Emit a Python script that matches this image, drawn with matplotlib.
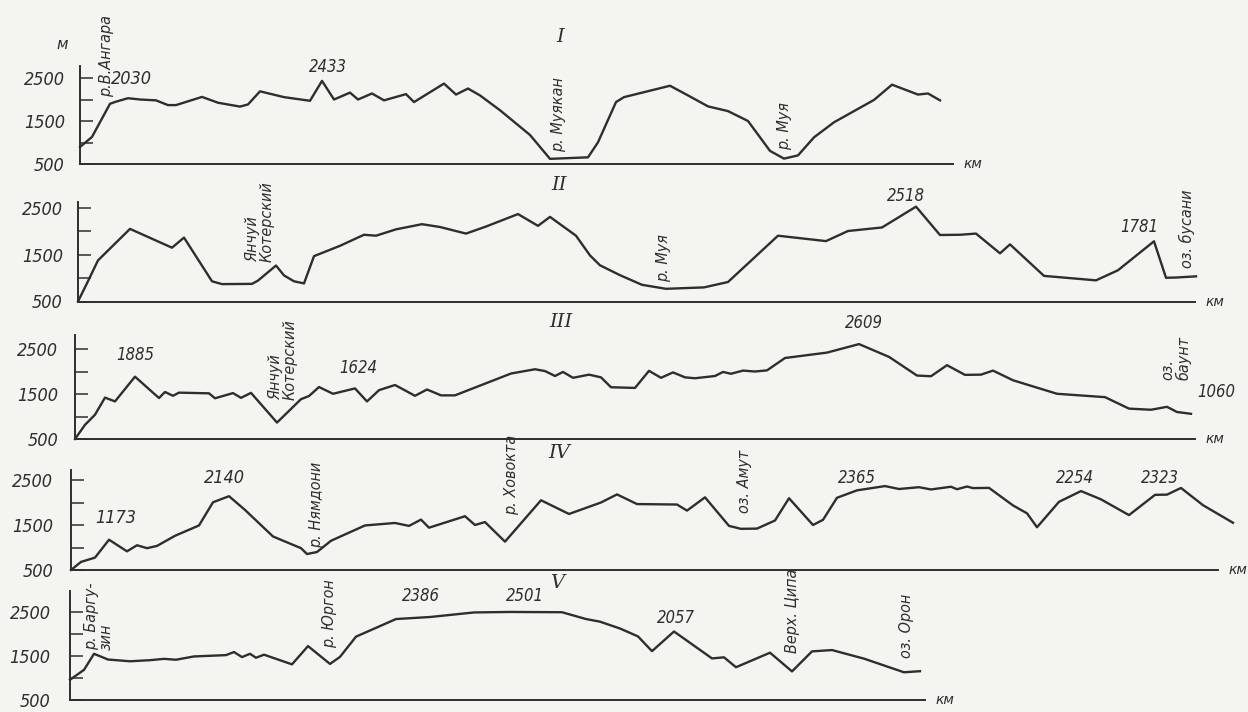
import matplotlib
matplotlib.use("Agg")
import matplotlib.pyplot as plt
from matplotlib.ticker import FixedLocator

W, H = 1248, 712
INK = "#2e2e2e"
PAPER = "#f4f4f1"

# профиль I: расстояние (км) и высота (м)
dist_1 = [0, 6, 15, 18, 24, 30, 38, 44, 48, 61, 69, 80, 84, 90, 102, 115, 121, 127, 135, 139,
          146, 152, 163, 167, 182, 188, 194, 200, 210, 225, 235, 254, 259, 268, 272, 295, 304, 314, 324, 334,
          345, 352, 359, 367, 377, 397, 406, 419, 424, 430]
elev_1 = [895, 1130, 1900, 1950, 2030, 2000, 1980, 1870, 1870, 2060, 1925, 1835, 1885, 2190, 2055, 1970, 2433, 2000, 2160, 2000,
          2140, 1980, 2125, 1940, 2370, 2115, 2255, 2095, 1750, 1175, 620, 655, 1005, 1940, 2055, 2320, 2095, 1840, 1730, 1500,
          805, 625, 700, 1120, 1470, 1990, 2345, 2115, 2140, 1980]

# профиль II
dist_2 = [0, 4, 10, 26, 37, 47, 53, 67, 72, 87, 90, 99, 103, 108, 113, 118, 131, 143, 149, 159,
          172, 181, 194, 204, 220, 230, 236, 249, 256, 261, 271, 282, 294, 313, 325, 350, 374, 385, 402, 419,
          431, 441, 449, 461, 466, 483, 509, 520, 538, 544, 549, 559]
elev_2 = [500, 845, 1375, 2045, 1835, 1645, 1860, 930, 870, 875, 945, 1265, 1055, 930, 885, 1465, 1685, 1920, 1900, 2035,
          2145, 2085, 1945, 2095, 2360, 2110, 2300, 1900, 1480, 1270, 1060, 855, 770, 800, 915, 1900, 1785, 2000, 2075, 2518,
          1915, 1920, 1945, 1525, 1715, 1045, 950, 1165, 1781, 1005, 1010, 1035]

# профиль III
dist_3 = [0, 5, 10, 15, 20, 30, 42, 45, 49, 52, 67, 70, 79, 83, 88, 101, 113, 117, 122, 129,
          140, 146, 152, 160, 170, 176, 183, 190, 218, 230, 235, 240, 244, 249, 257, 263, 268, 280, 287, 293,
          299, 305, 310, 320, 324, 328, 334, 340, 346, 355, 376, 392, 407, 421, 428, 436, 445, 453, 459, 469,
          491, 515, 527, 538, 546, 551, 558]
elev_3 = [500, 815, 1040, 1420, 1335, 1885, 1410, 1545, 1460, 1530, 1515, 1405, 1520, 1415, 1525, 865, 1385, 1455, 1655, 1505,
          1624, 1335, 1585, 1700, 1460, 1600, 1470, 1470, 1955, 2050, 2010, 1900, 1990, 1860, 1930, 1870, 1650, 1635, 2015, 1860,
          1980, 1870, 1850, 1900, 1990, 1950, 2020, 2000, 2025, 2300, 2420, 2609, 2325, 1910, 1895, 2140, 1925, 1930, 2020, 1805,
          1505, 1430, 1175, 1150, 1215, 1100, 1060]

# профиль IV
dist_4 = [0, 5, 12, 19, 28, 33, 38, 43, 52, 64, 71, 79, 87, 101, 115, 118, 123, 130, 147, 162,
          169, 175, 179, 197, 202, 207, 217, 235, 249, 265, 273, 283, 303, 308, 317, 329, 335, 343, 352, 359,
          371, 376, 383, 393, 407, 414, 424, 430, 440, 443, 448, 451, 459, 471, 478, 483, 494, 505, 515, 529,
          542, 548, 555, 566, 581]
elev_4 = [500, 680, 775, 1173, 915, 1050, 985, 1035, 1260, 1490, 2005, 2140, 1835, 1245, 985, 855, 900, 1150, 1490, 1545,
          1480, 1620, 1440, 1695, 1500, 1565, 1130, 2050, 1745, 2000, 2180, 1965, 1955, 1820, 2115, 1480, 1415, 1420, 1600, 2095,
          1500, 1615, 2105, 2270, 2365, 2300, 2340, 2290, 2350, 2295, 2355, 2320, 2325, 1935, 1760, 1450, 2015, 2254, 2070, 1720,
          2170, 2175, 2323, 1940, 1550]

# профиль V
dist_5 = [0, 7, 12, 19, 30, 40, 47, 53, 62, 78, 82, 86, 90, 93, 97, 111, 119, 130, 135, 143,
          163, 180, 202, 220, 246, 258, 265, 275, 284, 291, 302, 321, 327, 333, 350, 361, 371, 381, 397, 417,
          425]
elev_5 = [960, 1185, 1550, 1420, 1380, 1405, 1435, 1415, 1490, 1520, 1590, 1475, 1550, 1460, 1530, 1310, 1725, 1320, 1480, 1940,
          2340, 2386, 2490, 2501, 2495, 2340, 2280, 2125, 1945, 1610, 2057, 1445, 1470, 1245, 1575, 1150, 1605, 1635, 1440, 1130,
          1155]

tick_values = [500, 1500, 2500]
tick_labels = ["500", "1500", "2500"]

fig = plt.figure(figsize=(W / 100, H / 100), dpi=100, facecolor=PAPER)


def profile_axes(x0, x1, base, top, k, pad):
    # x0..x1 - пиксели оси расстояний, base - строка линии 500 м, k - пикселей на метр
    ymax = 500 + (base - top) / k
    ax = fig.add_axes([x0 / W, 1 - base / H, (x1 - x0) / W, (base - top) / H])
    ax.set_xlim(0, (x1 - x0) / 2)
    ax.set_ylim(500, ymax)
    ax.patch.set_visible(False)
    for s in ("top", "right"):
        ax.spines[s].set_visible(False)
    for s in ("left", "bottom"):
        ax.spines[s].set_color(INK)
        ax.spines[s].set_linewidth(1.4)
    ax.set_xticks([])
    ax.yaxis.set_major_locator(FixedLocator(tick_values))
    ax.yaxis.set_minor_locator(FixedLocator([1000, 2000]))
    ax.tick_params(axis="y", which="both", direction="in", length=9, width=1.1,
                   color=INK, pad=pad)
    ax.set_yticklabels(tick_labels, fontsize=13, fontstyle="italic",
                       fontstretch="condensed", color=INK)
    ax.text((x1 - x0) / 2 + 5, 500, "км", fontsize=10, style="italic",
            color=INK, ha="left", va="center")
    return ax


def note(ax, x, y, s, rot=0, size=12, ha="center", va="center"):
    ax.text(x, y, s, rotation=rot, fontsize=size, style="italic", stretch="condensed",
            color=INK, ha=ha, va=va, multialignment="left", linespacing=1.0)


def numeral(ax, x, y, s):
    ax.text(x, y, s, fontsize=14, family="DejaVu Serif", style="italic",
            color=INK, ha="center", va="center")


def draw(ax, d, e):
    ax.plot(d, e, color=INK, lw=1.7, clip_on=False, solid_joinstyle="round")


# I
ax1 = profile_axes(80, 953, 164, 66, 0.043, 11)
draw(ax1, dist_1, elev_1)
ax1.text(-9, 3270, "м", fontsize=11, style="italic", color=INK, ha="center", va="center")
note(ax1, 13.5, 2058, "р.В.Ангара", rot=90, va="bottom", size=11.5)
note(ax1, 25.5, 2477, "2030", size=13)
note(ax1, 124, 2756, "2433", size=12)
numeral(ax1, 240, 3454, "I")
note(ax1, 239.5, 779, "р. Муякан", rot=90, va="bottom", size=11.5)
note(ax1, 352.5, 826, "р. Муя", rot=90, va="bottom", size=11.5)

# II
ax2 = profile_axes(78, 1195, 301.5, 202, 0.047, 11)
draw(ax2, dist_2, elev_2)
note(ax2, 91, 1341, "Янчуй\nКотерский", rot=90, va="bottom", size=11.5)
numeral(ax2, 240.5, 2979, "II")
note(ax2, 293, 915, "р. Муя", rot=90, va="bottom", size=11.5)
note(ax2, 414, 2745, "2518", size=12)
note(ax2, 530.5, 2085, "1781", size=12)
note(ax2, 554.5, 1213, "оз. бусани", rot=90, va="bottom", size=11.5)

# III
ax3 = profile_axes(75, 1195, 439, 335, 0.045, 12)
draw(ax3, dist_3, elev_3)
note(ax3, 30, 2366, "1885", size=12)
note(ax3, 104, 1367, "Янчуй\nКотерский", rot=90, va="bottom", size=11.5)
note(ax3, 141.5, 2078, "1624", size=12)
numeral(ax3, 243, 3100, "III")
note(ax3, 394.5, 3078, "2609", size=12)
note(ax3, 550.5, 1811, "оз.\nбаунт", rot=90, va="bottom", size=11.5)
note(ax3, 570.5, 1544, "1060", size=12)

# IV
ax4 = profile_axes(71, 1218, 570, 470, 0.045, 13)
draw(ax4, dist_4, elev_4)
note(ax4, 22.5, 1655, "1173", size=13)
note(ax4, 76.5, 2544, "2140", size=13)
note(ax4, 123, 989, "р. Нямдони", rot=90, va="bottom", size=11.5)
note(ax4, 220.5, 1722, "р. Ховокта", rot=90, va="bottom", size=11.5)
numeral(ax4, 244, 3100, "IV")
note(ax4, 337, 1767, "оз. Амут", rot=90, va="bottom", size=11.5)
note(ax4, 393, 2544, "2365", size=12)
note(ax4, 502, 2544, "2254", size=12)
note(ax4, 544.5, 2544, "2323", size=12)

# V
ax5 = profile_axes(70, 925, 700, 591, 0.044, 14)
draw(ax5, dist_5, elev_5)
note(ax5, 14.5, 1637, "р. Баргу-\nзин", rot=90, va="bottom", size=11.5)
note(ax5, 130, 1682, "р. Юргон", rot=90, va="bottom", size=11.5)
note(ax5, 175.5, 2864, "2386", size=12)
note(ax5, 227.5, 2864, "2501", size=12)
numeral(ax5, 243.5, 3159, "V")
note(ax5, 303, 2364, "2057", size=12)
note(ax5, 361.5, 1568, "Верх. Ципа", rot=90, va="bottom", size=11.5)
note(ax5, 418.5, 1455, "оз. Орон", rot=90, va="bottom", size=11.5)

fig.savefig("out.png", dpi=100, facecolor=PAPER)
